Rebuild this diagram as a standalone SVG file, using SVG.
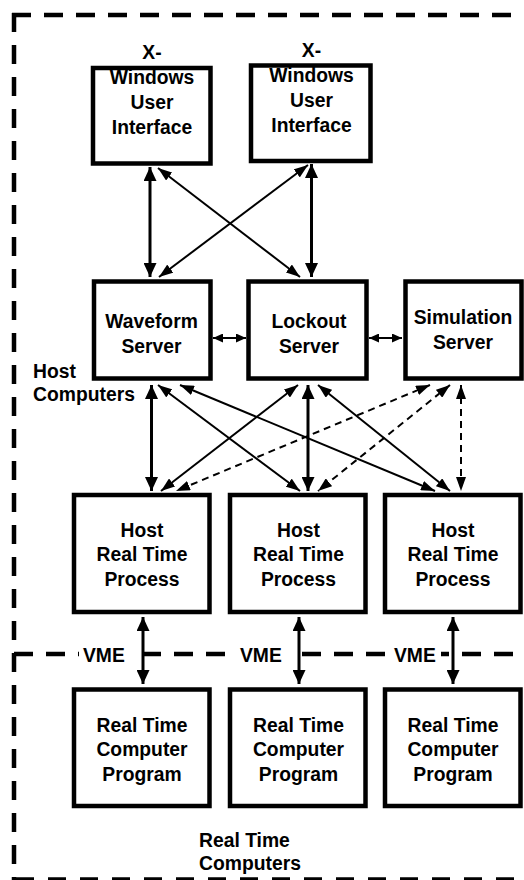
<svg xmlns="http://www.w3.org/2000/svg" width="524" height="880" viewBox="0 0 524 880">
<defs>
<style>
.bg{fill:#fff}
.frame{fill:none;stroke:#000;stroke-width:4.5;stroke-dasharray:19 13}
.box{fill:#fff;stroke:#000;stroke-width:4.5}
.t{font-family:"Liberation Sans",Arial,sans-serif;font-weight:bold;font-size:21px;fill:#000;text-anchor:middle}
.l{text-anchor:start}
.c{fill:none;stroke:#000;stroke-width:2}
.thick{stroke-width:3;marker-start:url(#big);marker-end:url(#big)}
.thin{marker-start:url(#mid);marker-end:url(#mid)}
.short{marker-start:url(#sm);marker-end:url(#sm)}
.dash{stroke-dasharray:7 5;marker-start:url(#mid);marker-end:url(#mid)}
</style>
<marker id="big" markerUnits="userSpaceOnUse" markerWidth="14" markerHeight="13" refX="14" refY="6.5" orient="auto-start-reverse"><path d="M0,0 L14,6.5 L0,13 z" fill="#000"/></marker>
<marker id="mid" markerUnits="userSpaceOnUse" markerWidth="14" markerHeight="10" refX="14" refY="5" orient="auto-start-reverse"><path d="M0,0 L14,5 L0,10 z" fill="#000"/></marker>
<marker id="sm" markerUnits="userSpaceOnUse" markerWidth="10" markerHeight="9" refX="10" refY="4.5" orient="auto-start-reverse"><path d="M0,0 L10,4.5 L0,9 z" fill="#000"/></marker>
</defs>
<rect class="bg" x="0" y="0" width="524" height="880"/>

<g id="frames">
<line class="frame" x1="14" y1="13" x2="14" y2="880"/>
<line class="frame" x1="12" y1="15" x2="524" y2="15"/>
<line class="frame" x1="14" y1="654" x2="524" y2="654"/>
<line class="frame" x1="16" y1="879.5" x2="524" y2="879.5" style="stroke-dasharray:18 14"/>
<rect class="bg" x="79" y="642" width="57" height="24"/>
<rect class="bg" x="236" y="642" width="55" height="24"/>
<rect class="bg" x="390" y="642" width="51" height="24"/>
<text class="t l" transform="translate(83 0) scale(0.92 1)" x="0" y="662">VME</text>
<text class="t l" transform="translate(240 0) scale(0.92 1)" x="0" y="662">VME</text>
<text class="t l" transform="translate(394 0) scale(0.92 1)" x="0" y="662">VME</text>
<text class="t l" transform="translate(33 0) scale(0.92 1)"><tspan x="0" y="378">Host</tspan><tspan x="0" y="401">Computers</tspan></text>
<text class="t l" transform="translate(199 0) scale(0.92 1)"><tspan x="0" y="847">Real Time</tspan><tspan x="0" y="870">Computers</tspan></text>
</g>

<g id="ui1">
<rect class="box" x="93" y="68" width="117.5" height="95.5"/>
<text class="t" transform="translate(152 0) scale(0.92 1)"><tspan x="0" y="59">X-</tspan><tspan x="0" y="84">Windows</tspan><tspan x="0" y="109">User</tspan><tspan x="0" y="134">Interface</tspan></text>
</g>
<g id="ui2">
<rect class="box" x="251" y="65.5" width="119.5" height="95.5"/>
<text class="t" transform="translate(311.5 0) scale(0.92 1)"><tspan x="0" y="57">X-</tspan><tspan x="0" y="82">Windows</tspan><tspan x="0" y="107">User</tspan><tspan x="0" y="132">Interface</tspan></text>
</g>

<g id="waveform">
<rect class="box" x="94" y="281.5" width="116.5" height="97"/>
<text class="t" transform="translate(151.5 0) scale(0.92 1)"><tspan x="0" y="328">Waveform</tspan><tspan x="0" y="353">Server</tspan></text>
</g>
<g id="lockout">
<rect class="box" x="248.5" y="281.5" width="118" height="97"/>
<text class="t" transform="translate(309 0) scale(0.92 1)"><tspan x="0" y="328">Lockout</tspan><tspan x="0" y="353">Server</tspan></text>
</g>
<g id="simulation">
<rect class="box" x="405.5" y="281.5" width="116" height="97"/>
<text class="t" transform="translate(463 0) scale(0.92 1)"><tspan x="0" y="324">Simulation</tspan><tspan x="0" y="349">Server</tspan></text>
</g>

<g id="hrt1">
<rect class="box" x="74" y="495" width="135.5" height="117"/>
<text class="t" transform="translate(142 0) scale(0.92 1)"><tspan x="0" y="537">Host</tspan><tspan x="0" y="561.5">Real Time</tspan><tspan x="0" y="586">Process</tspan></text>
</g>
<g id="hrt2">
<rect class="box" x="230" y="495" width="135.5" height="117"/>
<text class="t" transform="translate(298.5 0) scale(0.92 1)"><tspan x="0" y="537">Host</tspan><tspan x="0" y="561.5">Real Time</tspan><tspan x="0" y="586">Process</tspan></text>
</g>
<g id="hrt3">
<rect class="box" x="385" y="495" width="135.5" height="117"/>
<text class="t" transform="translate(453 0) scale(0.92 1)"><tspan x="0" y="537">Host</tspan><tspan x="0" y="561.5">Real Time</tspan><tspan x="0" y="586">Process</tspan></text>
</g>

<g id="rtc1">
<rect class="box" x="74" y="689.5" width="135.5" height="116.5"/>
<text class="t" transform="translate(142 0) scale(0.92 1)"><tspan x="0" y="732">Real Time</tspan><tspan x="0" y="756.5">Computer</tspan><tspan x="0" y="781">Program</tspan></text>
</g>
<g id="rtc2">
<rect class="box" x="230" y="689.5" width="135.5" height="116.5"/>
<text class="t" transform="translate(298.5 0) scale(0.92 1)"><tspan x="0" y="732">Real Time</tspan><tspan x="0" y="756.5">Computer</tspan><tspan x="0" y="781">Program</tspan></text>
</g>
<g id="rtc3">
<rect class="box" x="385" y="689.5" width="135.5" height="116.5"/>
<text class="t" transform="translate(453 0) scale(0.92 1)"><tspan x="0" y="732">Real Time</tspan><tspan x="0" y="756.5">Computer</tspan><tspan x="0" y="781">Program</tspan></text>
</g>

<g id="connectors">
<line class="c thick" x1="150" y1="167" x2="150" y2="277"/>
<line class="c thick" x1="311.5" y1="164" x2="311.5" y2="277"/>
<line class="c thin" x1="158" y1="168" x2="300" y2="277"/>
<line class="c thin" x1="308" y1="165" x2="159" y2="277"/>
<line class="c short" x1="213" y1="338" x2="246" y2="338"/>
<line class="c short" x1="369" y1="338" x2="402" y2="338"/>
<line class="c thick" x1="151.5" y1="385" x2="151.5" y2="491"/>
<line class="c thick" x1="308" y1="385" x2="308" y2="491"/>
<line class="c dash" x1="461" y1="385" x2="461" y2="491"/>
<line class="c thin" x1="158" y1="385" x2="300" y2="491"/>
<line class="c thin" x1="180" y1="385" x2="435" y2="491"/>
<line class="c thin" x1="298" y1="385" x2="161" y2="491"/>
<line class="c thin" x1="318" y1="385" x2="450" y2="491"/>
<line class="c dash" x1="430" y1="385" x2="176" y2="491"/>
<line class="c dash" x1="450" y1="385" x2="318" y2="491"/>
<line class="c thick" x1="143" y1="617" x2="143" y2="684"/>
<line class="c thick" x1="299" y1="617" x2="299" y2="684"/>
<line class="c thick" x1="453" y1="617" x2="453" y2="684"/>
</g>
</svg>
